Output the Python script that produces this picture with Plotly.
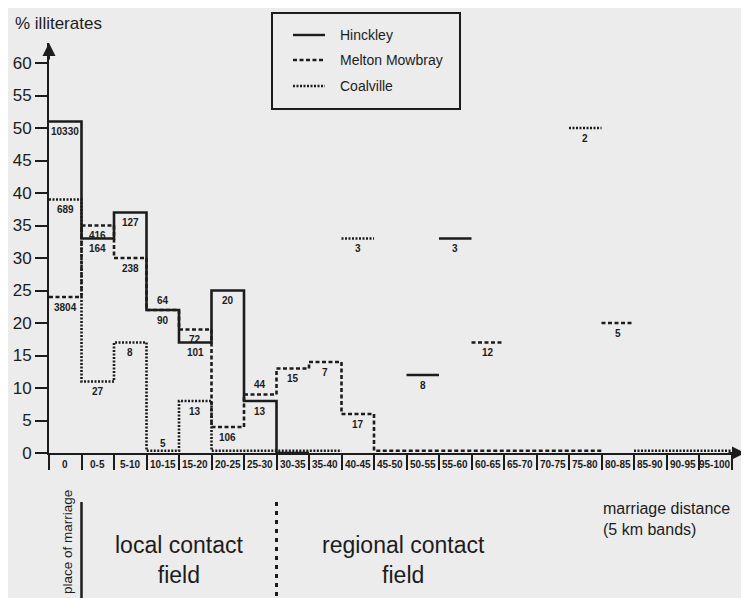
import plotly.graph_objects as go

# ---------------- data ----------------
bands = ["0", "0-5", "5-10", "10-15", "15-20", "20-25", "25-30", "30-35", "35-40",
         "40-45", "45-50", "50-55", "55-60", "60-65", "65-70", "70-75", "75-80",
         "80-85", "85-90", "90-95", "95-100"]
N = None
# connected step runs (% illiterates per band), None = not drawn
hinckley_pct = [51, 33, 37, 22, 17, 25, 8, 0, N, N, N, N, N, N, N, N, N, N, N, N, N]
melton_pct = [24, 35, 30, 22, 19, 4, 9, 13, 14, 6, 0, 0, 0, 0, 0, 0, 0, N, N, N, N]
coalville_pct = [39, 11, 17, 0, 8, 0, 0, 0, 0, N, N, N, N, N, N, N, N, N, 0, 0, 0]
# number of marriages per band (labels)
hinckley_n = [10330, 164, 127, 90, 101, 20, 13, N, N, N, N, N, N, N, N, N, N, N, N, N, N]
melton_n = [3804, 416, 238, 64, 72, 106, 44, 15, 7, 17, N, N, N, N, N, N, N, N, N, N, N]
coalville_n = [689, 27, 8, 5, 13, N, N, N, N, N, N, N, N, N, N, N, N, N, N, N, N]
# isolated (unconnected) band values
hinckley_float_pct = [N]*11 + [12, 33] + [N]*8
hinckley_float_n = [N]*11 + [8, 3] + [N]*8
melton_float_pct = [N]*13 + [17, N, N, N, 20, N, N, N]
melton_float_n = [N]*13 + [12, N, N, N, 5, N, N, N]
coalville_float_pct = [N]*9 + [33] + [N]*6 + [50] + [N]*4
coalville_float_n = [N]*9 + [3] + [N]*6 + [2] + [N]*4

series = [
    ("Hinckley", hinckley_pct, hinckley_n, hinckley_float_pct, hinckley_float_n, "solid"),
    ("Melton Mowbray", melton_pct, melton_n, melton_float_pct, melton_float_n, "4px,2.5px"),
    ("Coalville", coalville_pct, coalville_n, coalville_float_pct, coalville_float_n, "2px,1.5px"),
]
labels_above = {("Melton Mowbray", 3), ("Melton Mowbray", 6)}

# ---------------- layout geometry ----------------
OFF = 8                      # page body margin of the html page
W, H = 749 - OFF, 598 - OFF
L, R, T, B = 41, 4, 35, 145
PW, PH = W - L - R, H - T - B
XMAX = PW / 32.5
YMAX = PH / 6.5
INK = "#1c1c1c"
BG = "#ececec"
FONT = "Liberation Sans, Arial, sans-serif"


def px_x(px):
    return (px - OFF - L) / PW


def px_y(py):
    return (H - B - (py - OFF)) / PH


def step_xy(vals, lift):
    xs, ys = [], []
    prev = None
    for i, v in enumerate(vals):
        if v is None:
            if prev is not None:
                xs.append(None)
                ys.append(None)
            prev = None
            continue
        d = lift if v == 0 else v
        xs += [i, i + 1]
        ys += [d, d]
        prev = v
    return xs, ys


def float_xy(vals):
    xs, ys = [], []
    for i, v in enumerate(vals):
        if v is None:
            continue
        xs += [i, i + 1, None]
        ys += [v, v, None]
    return xs, ys


fig = go.Figure()
annotations = []
for name, pct, cnt, fpct, fcnt, dash in series:
    lift = 0 if dash == "solid" else 0.35
    for xs, ys in (step_xy(pct, lift), float_xy(fpct)):
        fig.add_trace(go.Scatter(x=xs, y=ys, mode="lines", name=name, showlegend=False,
                                 line=dict(color=INK, width=2.6, dash=dash),
                                 connectgaps=False, hoverinfo="skip", cliponaxis=False))
    for vals, counts in ((pct, cnt), (fpct, fcnt)):
        for i, (v, c) in enumerate(zip(vals, counts)):
            if v is None or c is None:
                continue
            above = v == 0 or (name, i) in labels_above
            annotations.append(dict(x=i + 0.5, y=v, xref="x", yref="y", text="<b>%d</b>" % c,
                                    showarrow=False, yanchor="middle",
                                    yshift=10 if above else -10,
                                    font=dict(size=10, color=INK, family=FONT)))

# band labels under the x axis
for i, b in enumerate(bands):
    annotations.append(dict(x=i + 0.5, y=0, xref="x", yref="y", text="<b>%s</b>" % b,
                            showarrow=False, yanchor="middle", yshift=-11,
                            font=dict(size=10, color=INK, family=FONT)))

# axis arrows
annotations.append(dict(x=0, y=YMAX, xref="x", yref="y", ax=0, ay=18, text="",
                        showarrow=True, arrowhead=2, arrowsize=1.3, arrowwidth=2, arrowcolor=INK))
annotations.append(dict(x=XMAX, y=0, xref="x", yref="y", ax=-18, ay=0, text="",
                        showarrow=True, arrowhead=2, arrowsize=1.3, arrowwidth=2, arrowcolor=INK))

# titles and field labels
annotations += [
    dict(x=px_x(13), y=px_y(24), xref="paper", yref="paper", text="% illiterates",
         showarrow=False, xanchor="left", yanchor="middle", font=dict(size=17, color=INK, family=FONT)),
    dict(x=px_x(601), y=px_y(519), xref="paper", yref="paper",
         text="marriage distance<br>(5 km bands)", align="left", showarrow=False,
         xanchor="left", yanchor="middle", font=dict(size=16, color=INK, family=FONT)),
    dict(x=px_x(179), y=px_y(560), xref="paper", yref="paper", text="local contact<br>field",
         showarrow=False, xanchor="center", yanchor="middle", font=dict(size=23, color=INK, family=FONT)),
    dict(x=px_x(403), y=px_y(560), xref="paper", yref="paper", text="regional contact<br>field",
         showarrow=False, xanchor="center", yanchor="middle", font=dict(size=23, color=INK, family=FONT)),
    dict(x=px_x(67), y=px_y(542), xref="paper", yref="paper", text="place of marriage",
         textangle=-90, showarrow=False, xanchor="center", yanchor="middle",
         font=dict(size=13.5, color=INK, family=FONT)),
]

# legend (drawn by hand)
legend_rows = [("Hinckley", "solid", 35), ("Melton Mowbray", "4px,2.5px", 60), ("Coalville", "2px,1.5px", 86)]
shapes = [dict(type="rect", xref="paper", yref="paper", x0=px_x(272), x1=px_x(460),
               y0=px_y(109), y1=px_y(13), line=dict(color=INK, width=2))]
for name, dash, py in legend_rows:
    shapes.append(dict(type="line", xref="paper", yref="paper", x0=px_x(293), x1=px_x(325),
                       y0=px_y(py), y1=px_y(py), line=dict(color=INK, width=2.4, dash=dash)))
    annotations.append(dict(x=px_x(338), y=px_y(py), xref="paper", yref="paper", text=name,
                            showarrow=False, xanchor="left", yanchor="middle",
                            font=dict(size=14, color=INK, family=FONT)))

# separators under the chart
shapes.append(dict(type="line", xref="paper", yref="paper", x0=px_x(81.5), x1=px_x(81.5),
                   y0=px_y(502), y1=px_y(600), line=dict(color=INK, width=2.5)))
shapes.append(dict(type="line", xref="paper", yref="paper", x0=px_x(276.5), x1=px_x(276.5),
                   y0=px_y(502), y1=px_y(600), line=dict(color=INK, width=3, dash="4px,5px")))

fig.update_layout(
    width=W, height=H, margin=dict(l=L, r=R, t=T, b=B),
    paper_bgcolor=BG, plot_bgcolor=BG, showlegend=False,
    font=dict(family=FONT, color=INK),
    annotations=annotations, shapes=shapes,
    xaxis=dict(range=[0, XMAX], tickvals=list(range(22)), showticklabels=False,
               ticks="outside", ticklen=15, tickwidth=1.5, tickcolor=INK,
               showline=True, linewidth=2, linecolor=INK, showgrid=False, zeroline=False,
               fixedrange=True),
    yaxis=dict(range=[0, YMAX], tickvals=list(range(0, 61, 5)), ticks="outside",
               ticklen=12, tickwidth=2, tickcolor=INK, showline=True, linewidth=2,
               linecolor=INK, showgrid=False, zeroline=False,
               tickfont=dict(size=17, color=INK, family=FONT), fixedrange=True),
)

fig.write_html("out.html")
